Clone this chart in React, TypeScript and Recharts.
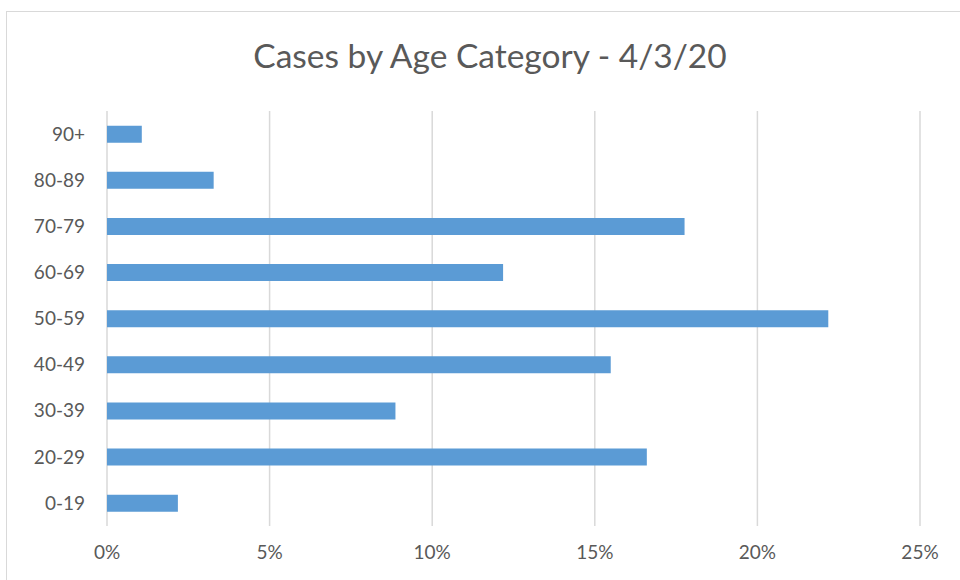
import React from 'react';
import { BarChart, Bar, XAxis, YAxis, CartesianGrid } from 'recharts';

const ageGroups = ['90+', '80-89', '70-79', '60-69', '50-59', '40-49', '30-39', '20-29', '0-19'];
const caseShares = [1.07, 3.28, 17.76, 12.18, 22.18, 15.49, 8.87, 16.6, 2.18];
const xTicks = [0, 5, 10, 15, 20, 25];

const data = ageGroups.map((age, i) => ({ age, share: caseShares[i] }));

const textColor = '#595959';
const font = 'Lato, "Open Sans", sans-serif';

export default function App() {
  return (
    <div style={{ position: 'absolute', left: 0, top: 0, width: 960, height: 580, background: '#fff', overflow: 'hidden', fontFamily: font }}>
      {/* chart frame */}
      <div style={{ position: 'absolute', left: 6, top: 11, width: 1000, height: 600, border: '1px solid #d9d9d9' }} />
      <div style={{ position: 'absolute', left: 0, width: 980, top: 35, textAlign: 'center', fontSize: 33.5, color: textColor, lineHeight: '40px' }}>
        Cases by Age Category - 4/3/20
      </div>
      <div style={{ position: 'absolute', left: 0, top: 0 }}>
        <BarChart
          width={960}
          height={580}
          data={data}
          layout="vertical"
          margin={{ top: 111, right: 40, bottom: 0, left: 0 }}
          barCategoryGap="32%"
        >
          <CartesianGrid horizontal={false} stroke="#d9d9d9" strokeWidth={1.5} />
          <XAxis
            type="number"
            domain={[0, 25]}
            ticks={xTicks}
            tickFormatter={(v) => `${v}%`}
            axisLine={false}
            tickLine={false}
            tickSize={0}
            tickMargin={20}
            tick={{ fill: textColor, fontSize: 19, fontFamily: font }}
            height={54}
          />
          <YAxis
            type="category"
            dataKey="age"
            width={107}
            axisLine={false}
            tickLine={false}
            tickSize={0}
            tickMargin={22}
            tick={{ fill: textColor, fontSize: 19, fontFamily: font }}
          />
          <Bar dataKey="share" fill="#5b9bd5" isAnimationActive={false} />
        </BarChart>
      </div>
    </div>
  );
}
